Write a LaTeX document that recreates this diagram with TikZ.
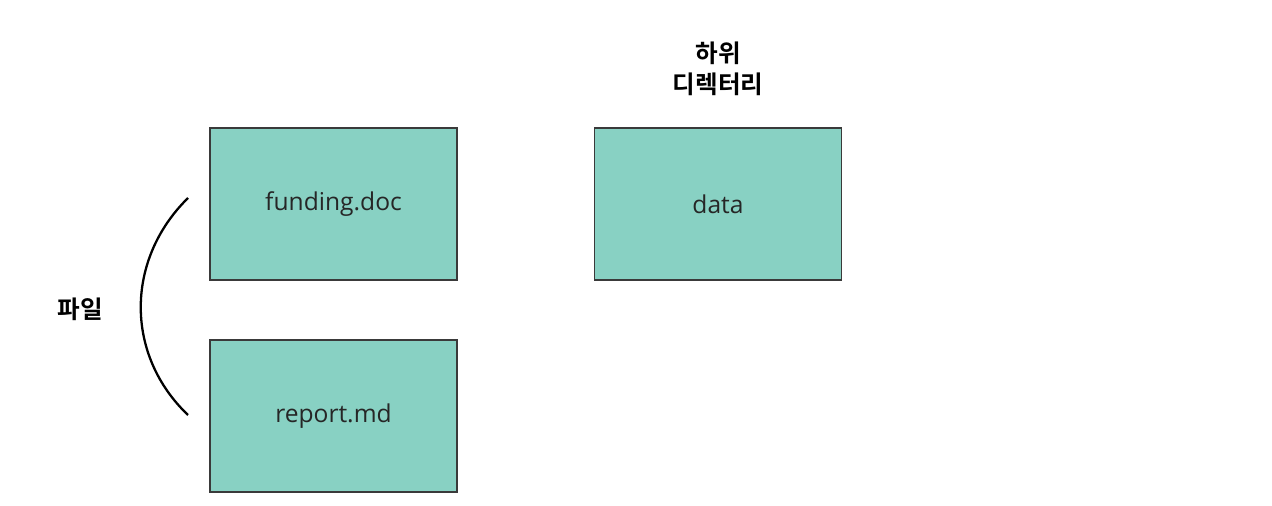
\documentclass[tikz,border=0pt]{standalone}
\usepackage{fontspec}
\setmainfont{Open Sans}
\newfontfamily\kofont{Noto Sans CJK KR}[BoldFont={* Bold}]
\usetikzlibrary{positioning}
\definecolor{boxfill}{HTML}{88D1C3}
\definecolor{boxline}{HTML}{3A3A3A}
\tikzset{%
	item/.style  = {draw=boxline, fill=boxfill, line width=0.9pt, minimum width=4.94cm, minimum height=3.04cm, font=\fontsize{14}{16}\selectfont, text=black!85},
	tag/.style   = {font=\kofont\bfseries\fontsize{14}{18}\selectfont, align=center},
}
\begin{document}
\begin{tikzpicture}[x=0.02cm,y=-0.02cm]
		\useasboundingbox (0,0) rectangle (1272,506);
		% boxes
		\node[item] (funding) at (333.5,204) {funding.doc};
		\node[item] (report) at (333.5,416) {report.md};
		\node[item] (data) at (718,204) {data};
		
		% labels
		\node[tag] (sub) at (718,69) {하위\\디렉터리};
		\node[tag] (files) at (80,309) {파일};
		
		% bracket
		\coordinate (top) at (188,198);
		\coordinate (bot) at (188,415);
		\draw[line width=1.3pt] (top) .. controls (125,260) and (125,355) .. (bot);
\end{tikzpicture}
\end{document}
